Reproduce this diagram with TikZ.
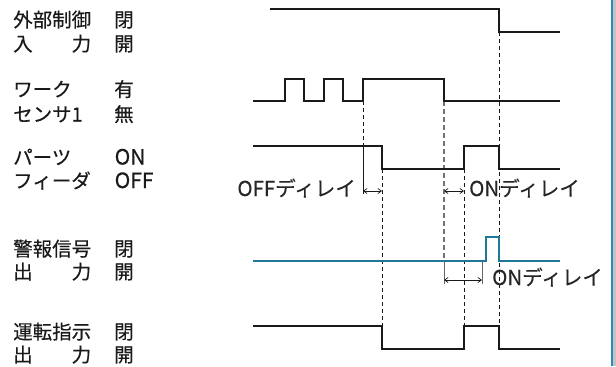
\documentclass[tikz,border=0pt]{standalone}
\usepackage{fontspec}
\setmainfont{Noto Sans CJK JP}
\usetikzlibrary{arrows.meta}
\definecolor{ink}{HTML}{1A1A1A}
\definecolor{teal}{HTML}{1F7897}
\definecolor{edgeblue}{HTML}{2A8CB8}
\definecolor{edgegray}{HTML}{C4C4C4}
\begin{document}
\begin{tikzpicture}[x=1bp,y=-1bp,
  lbl/.style={inner sep=0pt, anchor=base west, text=ink, font=\fontsize{19.5bp}{22bp}\selectfont\addfontfeatures{FakeBold=0.4}},
  lat/.style={lbl, font=\fontsize{21bp}{22bp}\selectfont\addfontfeatures{FakeBold=0.4}},
  dly/.style={lbl, text=black!85, font=\fontsize{20.5bp}{22bp}\selectfont\addfontfeatures{FakeBold=0.2}},
  sig/.style={draw=ink, line width=1.3bp, line join=miter},
  alarm/.style={draw=teal, line width=1.3bp},
  guide/.style={draw=ink, line width=0.8bp, dash pattern=on 4bp off 3bp},
  guidegray/.style={draw=black!55, line width=1.1bp, dash pattern=on 5bp off 3bp},
  ext/.style={draw=ink, line width=0.7bp},
  extgray/.style={draw=black!60, line width=0.8bp},
  dim/.style={draw=ink, line width=0.7bp, {Straight Barb[length=3.5bp,width=5bp]}-{Straight Barb[length=3.5bp,width=5bp]}}
]
\useasboundingbox (0,0) rectangle (616,366);
\fill[white] (0,0) rectangle (616,366);
\fill[edgegray] (612.5,0) rectangle (616,366);
\draw[edgeblue, line width=2bp] (611.5,0) -- (611.5,366);

% left labels
\node[lbl] (n1a) at (13,27) {外部制御};
\node[lbl] (n1b) at (13,51) {入　　力};
\node[lbl] (s1a) at (114,27) {閉};
\node[lbl] (s1b) at (114,51) {開};
\node[lbl] (n2a) at (13,96.5) {ワーク};
\node[lbl] (n2b) at (13,121.5) {センサ1};
\node[lbl] (s2a) at (114,96.5) {有};
\node[lbl] (s2b) at (114,121.5) {無};
\node[lbl] (n3a) at (13,164.5) {パーツ};
\node[lbl] (n3b) at (13,188) {フィーダ};
\node[lat] (s3a) at (114.5,164.5) {ON};
\node[lat] (s3b) at (114.5,188) {OFF};
\node[lbl] (n4a) at (13,256) {警報信号};
\node[lbl] (n4b) at (13,279) {出　　力};
\node[lbl] (s4a) at (114,256) {閉};
\node[lbl] (s4b) at (114,279) {開};
\node[lbl] (n5a) at (13,339) {運転指示};
\node[lbl] (n5b) at (13,362) {出　　力};
\node[lbl] (s5a) at (114,339) {閉};
\node[lbl] (s5b) at (114,362) {開};

% guide lines
\draw[guide] (363,101) -- (363,146);
\draw[ext] (363,146) -- (363,194);
\draw[guide] (382,169) -- (382,326);
\draw[guidegray] (444,101) -- (444,261);
\draw[extgray] (444,261) -- (444,284);
\draw[extgray] (482,262) -- (482,284);
\draw[guide] (464,169) -- (464,326);
\draw[guide] (499,32) -- (499,326);

% signals
\draw[sig] (270,9) -- (499,9) -- (499,32) -- (560,32);
\draw[sig] (253,101) -- (285,101) -- (285,79) -- (304,79) -- (304,101) -- (324,101) -- (324,79)
  -- (343,79) -- (343,101) -- (363,101) -- (363,79) -- (444,79) -- (444,101) -- (560,101);
\draw[sig] (253,146) -- (382,146) -- (382,169) -- (464,169) -- (464,146) -- (499,146) -- (499,169) -- (560,169);
\draw[alarm] (253,261) -- (486,261) -- (486,237) -- (499,237) -- (499,261) -- (560,261);
\draw[sig] (253,326) -- (382,326) -- (382,349) -- (464,349) -- (464,326) -- (499,326) -- (499,349) -- (560,349);

% delay dimensions
\coordinate (a1) at (363,191); \coordinate (b1) at (382,191);
\coordinate (a2) at (444,191); \coordinate (b2) at (464,191);
\coordinate (a3) at (444,280); \coordinate (b3) at (482,280);
\draw[dim] (a1) -- (b1);
\draw[dim] (a2) -- (b2);
\draw[dim] (a3) -- (b3);
\node[dly, anchor=base east] (d1) at (356,196) {OFFディレイ};
\node[dly] (d2) at (469,196) {ONディレイ};
\node[dly] (d3) at (492,285) {ONディレイ};
\end{tikzpicture}
\end{document}
